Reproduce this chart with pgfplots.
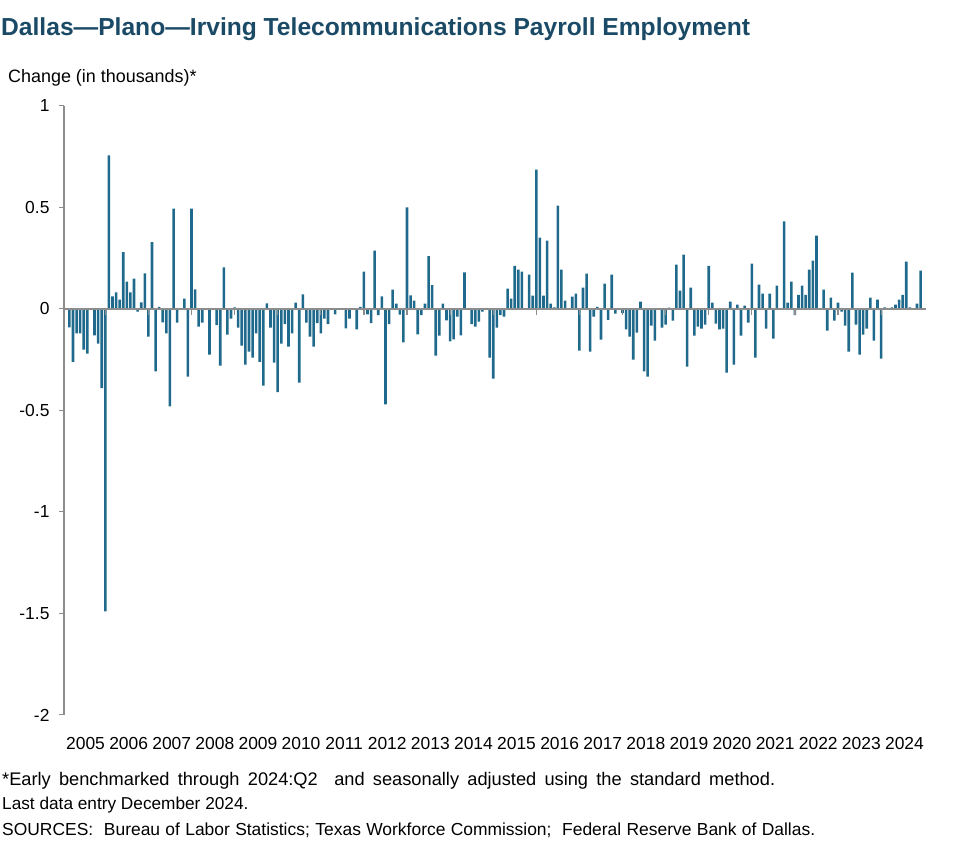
\documentclass[border=0pt]{standalone}
\usepackage{pgfplots}
\pgfplotsset{compat=1.18}
\usepackage{fontspec}
\setmainfont{Liberation Sans}
\definecolor{barc}{HTML}{1F6A8C}
\definecolor{ttl}{HTML}{1B4A66}
\definecolor{axc}{HTML}{8C8C8C}
\begin{document}
\begin{tikzpicture}
\path (0bp,0bp) rectangle (977bp,864bp);
\node[anchor=base west, inner sep=0, text=ttl, font=\fontsize{24.7}{28}\selectfont\bfseries] at (1bp,828bp) {Dallas—Plano—Irving Telecommunications Payroll Employment};
\node[anchor=base west, inner sep=0, font=\fontsize{18}{21}\selectfont] at (8bp,781bp) {Change (in thousands)*};
\begin{axis}[at={(64bp,149bp)}, anchor=south west, scale only axis, width=862bp, height=609bp,
 xmin=-0.5, xmax=239.5, ymin=-2, ymax=1,
 axis x line*=bottom, axis y line*=left,
 x axis line style={draw=none}, y axis line style={axc, line width=1.3bp, -},
 ytick={-2,-1.5,-1,-0.5,0,0.5,1}, yticklabels={-2,-1.5,-1,-0.5,0,0.5,1},
 y tick style={axc, line width=1bp}, tick align=outside, major tick length=5bp,
 xtick={5.5,17.5,...,233.5},
 xticklabels={2005,2006,2007,2008,2009,2010,2011,2012,2013,2014,2015,2016,2017,2018,2019,2020,2021,2022,2023,2024},
 x tick style={draw=none},
 ticklabel style={font=\fontsize{17.5}{20}\selectfont},
 yticklabel style={xshift=-6bp},
 xticklabel style={yshift=-14bp},
 ybar, bar width=0.72, clip=false]
\addplot[fill=barc, draw=none] table {
x y
1 -0.09
2 -0.26
3 -0.12
4 -0.12
5 -0.20
6 -0.22
7 0
8 -0.13
9 -0.17
10 -0.39
11 -1.49
12 0.757
13 0.062
14 0.082
15 0.046
16 0.28
17 0.135
18 0.082
19 0.15
20 -0.013
21 0.033
22 0.176
23 -0.136
24 0.33
25 -0.307
26 0.01
27 -0.066
28 -0.12
29 -0.48
30 0.494
31 -0.067
32 0
33 0.051
34 -0.333
35 0.494
36 0.097
37 -0.087
38 -0.067
39 0
40 -0.225
41 0
42 -0.079
43 -0.279
44 0.205
45 -0.126
46 -0.048
47 0.008
48 -0.092
49 -0.18
50 -0.274
51 -0.21
52 -0.24
53 -0.12
54 -0.26
55 -0.378
56 0.028
57 -0.092
58 -0.264
59 -0.41
60 -0.17
61 -0.075
62 -0.185
63 -0.12
64 0.031
65 -0.363
66 0.072
67 -0.067
68 -0.136
69 -0.185
70 -0.07
71 -0.12
72 -0.048
73 -0.075
74 0
75 -0.026
76 0
77 0
78 -0.095
79 -0.048
80 0
81 -0.1
82 0.011
83 0.184
84 -0.026
85 -0.07
86 0.287
87 -0.03
88 0.062
89 -0.47
90 -0.075
91 0.095
92 0.026
93 -0.028
94 -0.164
95 0.5
96 0.067
97 0.041
98 -0.125
99 -0.03
100 0.026
101 0.26
102 0.117
103 -0.23
104 -0.131
105 0.026
106 -0.056
107 -0.16
108 -0.15
109 -0.038
110 -0.13
111 0.18
112 0
113 -0.075
114 -0.087
115 -0.062
116 -0.013
117 0
118 -0.24
119 -0.343
120 -0.092
121 -0.03
122 -0.038
123 0.1
124 0.051
125 0.213
126 0.194
127 0.184
128 0
129 0.169
130 0.066
131 0.686
132 0.351
133 0.066
134 0.337
135 0.026
136 0.008
137 0.509
138 0.194
139 0.041
140 0
141 0.061
142 0.076
143 -0.205
144 0.105
145 0.174
146 -0.21
147 -0.038
148 0.011
149 -0.151
150 0.125
151 -0.053
152 0.169
153 -0.023
154 0
155 -0.02
156 -0.1
157 -0.136
158 -0.25
159 -0.117
160 0.036
161 -0.307
162 -0.333
163 -0.082
164 -0.156
165 0
166 -0.092
167 -0.077
168 0.007
169 -0.057
170 0.218
171 0.09
172 0.268
173 -0.284
174 0.105
175 -0.131
176 -0.087
177 -0.097
178 -0.077
179 0.213
180 0.031
181 -0.072
182 -0.1
183 -0.097
184 -0.314
185 0.036
186 -0.274
187 0.021
188 -0.131
189 0.016
190 -0.067
191 0.223
192 -0.24
193 0.12
194 0.076
195 -0.097
196 0.076
197 -0.146
198 0.115
199 0
200 0.432
201 0.031
202 0.135
203 -0.03
204 0.07
205 0.115
206 0.07
207 0.194
208 0.238
209 0.361
210 0
211 0.095
212 -0.107
213 0.056
214 -0.057
215 0.031
216 -0.013
217 -0.082
218 -0.21
219 0.179
220 -0.077
221 -0.225
222 -0.126
223 -0.097
224 0.056
225 -0.156
226 0.046
227 -0.245
228 0.008
229 0
230 0.008
231 0.021
232 0.046
233 0.07
234 0.233
235 0.008
236 0
237 0.026
238 0.189
};
\draw[axc, line width=2bp] (axis cs:-0.5,0) -- (axis cs:239.5,0);
\pgfplotsinvokeforeach{1,...,19}{\draw[axc, line width=1.2bp] (axis cs:{12*#1-1},0) -- ([yshift=-6bp]axis cs:{12*#1-1},0);}
\end{axis}
\node[anchor=base west, inner sep=0, font=\fontsize{18.3}{20}\selectfont] at (2bp,78bp) {\makebox[773bp][s]{*Early benchmarked through 2024:Q2\ \ and seasonally adjusted using the standard method.}};
\node[anchor=base west, inner sep=0, font=\fontsize{17.3}{20}\selectfont] at (2bp,54bp) {Last data entry December 2024.};
\node[anchor=base west, inner sep=0, font=\fontsize{17.5}{20}\selectfont] at (2bp,29bp) {\makebox[813bp][s]{SOURCES:\ \ Bureau of Labor Statistics; Texas Workforce Commission;\ \ Federal Reserve Bank of Dallas.}};
\end{tikzpicture}
\end{document}
